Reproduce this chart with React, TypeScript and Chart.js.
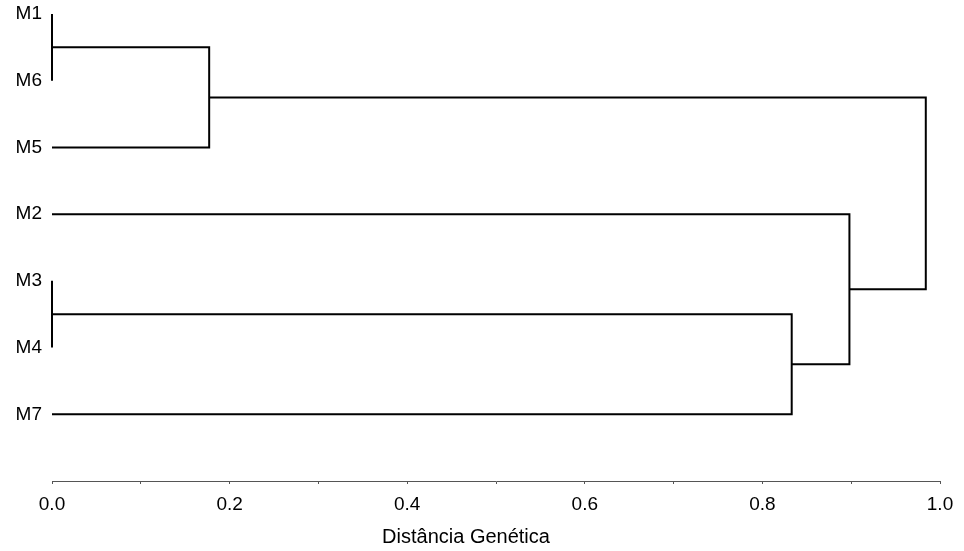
import React, { useEffect, useRef } from "react";
import { Chart, registerables } from "chart.js";

Chart.register(...registerables);

// Leaf order (top to bottom)
const leafLabels = ["M1", "M6", "M5", "M2", "M3", "M4", "M7"];
// Merge steps: node ids 0..6 are leaves, 7.. are clusters created in order
const mergeLeft = [0, 4, 7, 8, 3, 9];
const mergeRight = [1, 5, 2, 6, 10, 11];
const mergeHeight = [0.0, 0.0, 0.177, 0.833, 0.898, 0.984];

const xTickValues = [0, 0.2, 0.4, 0.6, 0.8, 1.0];
const axisTitle = "Distância Genética";

const FONT = "'Liberation Sans', Arial, sans-serif";

function buildSegments() {
  const nodeY: number[] = leafLabels.map((_, i) => i);
  const nodeH: number[] = leafLabels.map(() => 0);
  const segs: { x: number; y: number }[][] = [];
  mergeLeft.forEach((l, k) => {
    const r = mergeRight[k];
    const h = mergeHeight[k];
    segs.push([
      { x: nodeH[l], y: nodeY[l] },
      { x: h, y: nodeY[l] },
      { x: h, y: nodeY[r] },
      { x: nodeH[r], y: nodeY[r] },
    ]);
    nodeY.push((nodeY[l] + nodeY[r]) / 2);
    nodeH.push(h);
  });
  return segs;
}

export default function App() {
  const ref = useRef<HTMLCanvasElement | null>(null);
  useEffect(() => {
    if (!ref.current) return;
    const segs = buildSegments();
    const titlePlugin = {
      id: "bottomTitle",
      afterDraw(chart: any) {
        const { ctx, chartArea } = chart;
        ctx.save();
        ctx.font = `20px ${FONT}`;
        ctx.fillStyle = "#000";
        ctx.textAlign = "center";
        ctx.textBaseline = "middle";
        ctx.fillText(axisTitle, (chartArea.left + chartArea.right) / 2 - 30, chartArea.bottom + 56);
        ctx.restore();
      },
    };
    const chart = new Chart(ref.current, {
      type: "line",
      data: {
        datasets: segs.map((s) => ({
          data: s,
          borderColor: "#000",
          borderWidth: 2,
          pointRadius: 0,
          fill: false,
          tension: 0,
          clip: false as any,
        })),
      },
      options: {
        animation: false,
        responsive: true,
        maintainAspectRatio: false,
        layout: { padding: { top: 14, right: 24, left: 0, bottom: 0 } },
        plugins: { legend: { display: false }, tooltip: { enabled: false } },
        scales: {
          x: {
            type: "linear",
            min: 0,
            max: 1,
            afterFit: (s: any) => {
              s.height = 70;
              s.paddingLeft = 0;
              s.paddingRight = 0;
            },
            afterBuildTicks: (s: any) => {
              const vals: number[] = [];
              for (let i = 0; i <= 10; i++) vals.push(i / 10);
              s.ticks = vals.map((v) => ({ value: v }));
            },
            ticks: {
              autoSkip: false,
              maxRotation: 0,
              color: "#000",
              padding: 9,
              font: { size: 19, family: FONT },
              callback: (v: any) => {
                const n = Number(v);
                return xTickValues.some((t) => Math.abs(t - n) < 1e-6) ? n.toFixed(1) : "";
              },
            },
            grid: { drawOnChartArea: false, drawTicks: true, tickLength: 3, color: "#555" },
            border: { display: true, color: "#555", width: 1 },
          },
          y: {
            type: "linear",
            min: 0,
            max: 7,
            reverse: true,
            afterFit: (s: any) => {
              s.width = 52;
              s.paddingTop = 0;
              s.paddingBottom = 0;
            },
            afterBuildTicks: (s: any) => {
              s.ticks = leafLabels.map((_, i) => ({ value: i }));
            },
            ticks: {
              autoSkip: false,
              color: "#000",
              padding: 10,
              font: { size: 19, family: FONT },
              callback: (v: any) => leafLabels[Number(v)] ?? "",
            },
            grid: { display: false, drawTicks: false },
            border: { display: false },
          },
        },
      },
      plugins: [titlePlugin],
    });
    return () => chart.destroy();
  }, []);
  return (
    <div style={{ position: "fixed", left: 0, top: 0, width: 964, height: 551, background: "#fff" }}>
      <canvas ref={ref} />
    </div>
  );
}
